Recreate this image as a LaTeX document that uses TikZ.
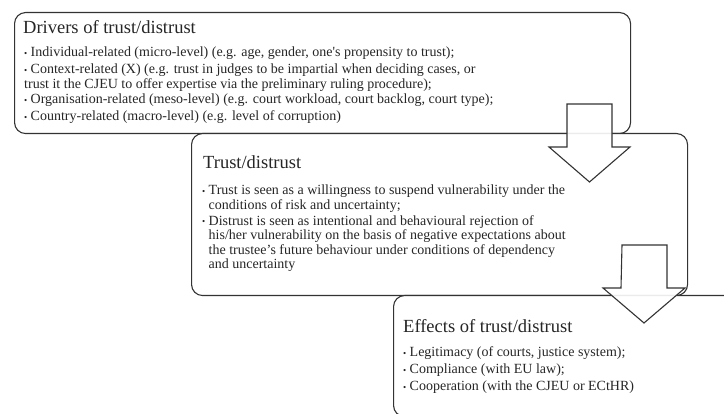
\documentclass[tikz,border=0pt]{standalone}
\usepackage{fontspec}
\setmainfont{Liberation Serif}
\newcommand\bul{\makebox[6.5pt][l]{\raisebox{0.8pt}{\fontsize{9}{9}\selectfont\textbullet}}}
\newcommand\bulsp{\hspace*{6.5pt}}
\begin{document}
\begin{tikzpicture}[x=1pt,y=-1pt,
  box/.style={draw=black!80, line width=1.1pt, rounded corners=11pt, fill=white, inner sep=0, anchor=north west},
  ttl/.style={anchor=base west, inner sep=0, font=\fontsize{18.5}{20}\selectfont, text=black!85},
  ln/.style={anchor=base west, inner sep=0, font=\fontsize{14}{15}\selectfont, text=black!85},
  blockarrow/.style={draw=black!80, line width=1.1pt, fill=white, fill opacity=0.9, line join=miter}]
\useasboundingbox (0,0) rectangle (724,414);
\clip (0,0) rectangle (724,414);
% boxes
\node[box, minimum width=616pt, minimum height=121pt] (b1) at (14,12) {};
\node[box, minimum width=496pt, minimum height=162pt] (b2) at (191,133) {};
\node[box, minimum width=350pt, minimum height=121pt] (b3) at (393,295) {};
% box 1 text
\node[ttl] (t1) at (23,34) {Drivers of trust/distrust};
\node[ln] (l11) at (24,57) {\bul Individual-related (micro-level) (e.g. age, gender, one\textquotesingle s propensity to trust);};
\node[ln] (l12) at (24,74) {\bul Context-related (X) (e.g. trust in judges to be impartial when deciding cases, or};
\node[ln] (l13) at (24,88.5) {trust it the CJEU to offer expertise via the preliminary ruling procedure);};
\node[ln] (l14) at (24,104) {\bul Organisation-related (meso-level) (e.g. court workload, court backlog, court type);};
\node[ln] (l15) at (24,121) {\bul Country-related (macro-level) (e.g. level of corruption)};
% box 2 text
\node[ttl] (t2) at (203,169) {Trust/distrust};
\node[ln] (l21) at (202,195) {\bul Trust is seen as a willingness to suspend vulnerability under the};
\node[ln] (l22) at (202,209.5) {\bulsp conditions of risk and uncertainty;};
\node[ln] (l23) at (202,225.5) {\bul Distrust is seen as intentional and behavioural rejection of};
\node[ln] (l24) at (202,240) {\bulsp his/her vulnerability on the basis of negative expectations about};
\node[ln] (l25) at (202,254.5) {\bulsp the trustee's future behaviour under conditions of dependency};
\node[ln] (l26) at (202,269) {\bulsp and uncertainty};
% box 3 text
\node[ttl] (t3) at (403,333) {Effects of trust/distrust};
\node[ln] (l31) at (403,357) {\bul Legitimacy (of courts, justice system);};
\node[ln] (l32) at (403,374) {\bul Compliance (with EU law);};
\node[ln] (l33) at (403,391) {\bul Cooperation (with the CJEU or ECtHR)};
% block arrows
\coordinate (a1) at (589.5,104);
\coordinate (a2) at (644.5,245);
\draw[blockarrow] (a1) ++(-22.5,0) -- ++(45,0) -- ++(0,43) -- ++(18,0) -- ++(-40.5,35) -- ++(-40.5,-35) -- ++(18,0) -- cycle;
\draw[blockarrow] (a2) ++(-22.5,0) -- ++(45,0) -- ++(0,43) -- ++(18,0) -- ++(-41,35) -- ++(-41,-35) -- ++(18,0) -- cycle;
\end{tikzpicture}
\end{document}
